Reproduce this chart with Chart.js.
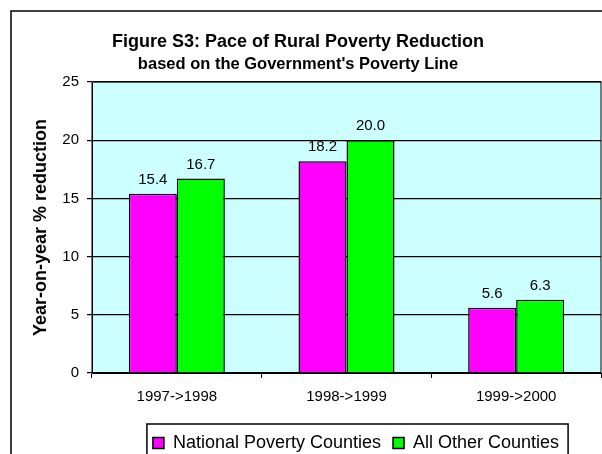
<!DOCTYPE html>
<html>
<head>
<meta charset="utf-8">
<title>Figure S3</title>
<script src="https://cdn.jsdelivr.net/npm/chart.js@4.4.1/dist/chart.umd.min.js"></script>
<style>
  html, body { margin: 0; padding: 0; background: #fff; }
  #wrap { width: 602px; height: 454px; }
</style>
</head>
<body>
<div id="wrap"><canvas id="figS3" width="602" height="454"></canvas></div>
<script>
// data
const periods = ['1997->1998', '1998->1999', '1999->2000'];
const seriesNames = ['National Poverty Counties', 'All Other Counties'];
const nationalPoverty = [15.4, 18.2, 5.6];
const allOther = [16.7, 20.0, 6.3];
const yTicks = [0, 5, 10, 15, 20, 25];

const FONT = '"Liberation Sans", Arial, sans-serif';
Chart.defaults.color = '#000';
Chart.defaults.font.family = FONT;

// white page, outer frame, cyan plot area
const framePlugin = {
  id: 'frame',
  afterLayout(chart) {
    // legend sits off-centre in the original, titles slightly left
    const lg = chart.legend;
    lg.left += 50; lg.right += 50;
    lg.top += 8; lg.bottom += 8;
    chart.boxes.forEach(b => {
      if (b.options && b.options.text !== undefined && b !== lg) {
        b.left -= 8; b.right -= 8;
      }
    });
  },
  beforeDraw(chart) {
    const {ctx, width, height, chartArea: a} = chart;
    ctx.save();
    ctx.fillStyle = '#fff';
    ctx.fillRect(0, 0, width, height);
    ctx.fillStyle = '#ccffff';
    ctx.fillRect(a.left, a.top, a.right - a.left, a.bottom - a.top);
    ctx.strokeStyle = '#000';
    ctx.lineWidth = 1.5;
    ctx.beginPath();
    ctx.moveTo(11, height);
    ctx.lineTo(11, 11);
    ctx.lineTo(width, 11);
    ctx.stroke();
    ctx.restore();
  },
  afterDraw(chart) {
    const {ctx, chartArea: a} = chart;
    ctx.save();
    ctx.strokeStyle = '#000';
    ctx.lineWidth = 1;
    ctx.strokeRect(a.left, a.top, a.right - a.left, a.bottom - a.top);
    // box round the legend
    const lg = chart.legend;
    const pad = lg.options.labels.padding;
    const lw = lg.lineWidths[0];
    const x0 = (lg.left + pad + lg.right - lw) / 2;
    ctx.lineWidth = 1.5;
    ctx.strokeRect(x0 - 6, lg.top + pad - 10, lw - pad + 15, 60);
    ctx.restore();
  }
};

// value labels above each bar
const valueLabels = {
  id: 'valueLabels',
  afterDatasetsDraw(chart) {
    const {ctx} = chart;
    ctx.save();
    ctx.font = '15px ' + FONT;
    ctx.fillStyle = '#000';
    ctx.textAlign = 'center';
    ctx.textBaseline = 'alphabetic';
    chart.data.datasets.forEach((ds, i) => {
      chart.getDatasetMeta(i).data.forEach((bar, j) => {
        ctx.fillText(ds.data[j].toFixed(1), bar.x, bar.y - 10);
      });
    });
    ctx.restore();
  }
};

new Chart(document.getElementById('figS3'), {
  type: 'bar',
  data: {
    labels: periods,
    datasets: [
      {
        label: seriesNames[0],
        data: nationalPoverty,
        backgroundColor: '#ff00ff',
        borderColor: '#000',
        borderWidth: 1.5
      },
      {
        label: seriesNames[1],
        data: allOther,
        backgroundColor: '#00ff00',
        borderColor: '#000',
        borderWidth: 1.5
      }
    ]
  },
  options: {
    responsive: false,
    animation: false,
    devicePixelRatio: 1,
    layout: { padding: { left: 11, right: 1, top: 0, bottom: 0 } },
    datasets: { bar: { categoryPercentage: 0.566, barPercentage: 1 } },
    plugins: {
      title: {
        display: true,
        text: 'Figure S3: Pace of Rural Poverty Reduction',
        font: { size: 18, weight: 'bold' },
        padding: { top: 31.7, bottom: 0 }
      },
      subtitle: {
        display: true,
        text: "based on the Government's Poverty Line",
        font: { size: 16.5, weight: 'bold' },
        color: '#000',
        padding: { top: 1.3, bottom: 7.6 }
      },
      legend: {
        position: 'bottom',
        labels: {
          font: { size: 18 },
          boxWidth: 11,
          boxHeight: 11,
          padding: 12,
          color: '#000'
        }
      },
      tooltip: { enabled: false }
    },
    scales: {
      x: {
        afterFit(scale) { scale.height = 41; },
        grid: { display: true, drawOnChartArea: false, color: '#000', tickLength: 5, offset: true },
        border: { color: '#000', width: 1 },
        ticks: { font: { size: 15 }, padding: 10, maxRotation: 0 }
      },
      y: {
        min: yTicks[0],
        max: yTicks[yTicks.length - 1],
        afterFit(scale) { scale.width = 81; },
        grid: { color: '#000', tickLength: 5, lineWidth: 1.2 },
        border: { color: '#000', width: 1 },
        ticks: { stepSize: yTicks[1] - yTicks[0], font: { size: 15 }, padding: 8 },
        title: {
          display: true,
          text: 'Year-on-year % reduction',
          font: { size: 18, weight: 'bold' },
          padding: { top: 19, bottom: 0 }
        }
      }
    }
  },
  plugins: [framePlugin, valueLabels]
});
</script>
</body>
</html>
